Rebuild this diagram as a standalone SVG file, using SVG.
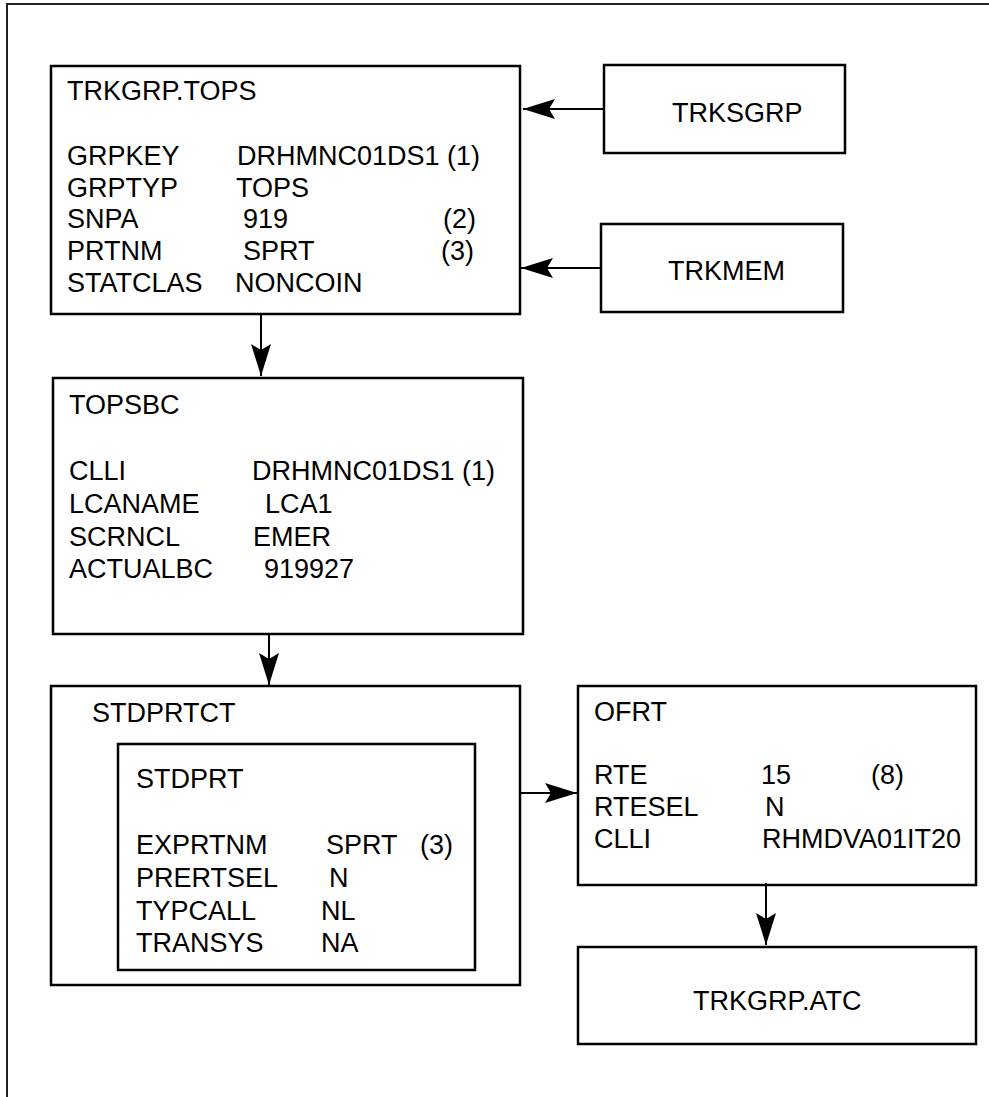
<svg xmlns="http://www.w3.org/2000/svg" width="989" height="1097" viewBox="0 0 989 1097">
<defs>
<style>
.box{fill:#fff;stroke:#000;stroke-width:2.5}
.t{font-family:"Liberation Sans",Arial,sans-serif;font-size:27px;fill:#000}
.c{stroke:#000;stroke-width:2;fill:none}
.frame{stroke:#222;stroke-width:2;fill:none}
</style>
<marker id="ah" markerUnits="userSpaceOnUse" markerWidth="36" markerHeight="24" viewBox="-34 -12 36 24" refX="0" refY="0" orient="auto">
<path d="M0,0 L-32,-10 L-26,0 L-32,10 Z" fill="#000"/>
</marker>
</defs>
<rect width="989" height="1097" fill="#fff"/>
<path class="frame" d="M7,1097 V4 H989"/>

<g id="trkgrp-tops">
<rect class="box" x="51" y="66" width="469" height="248"/>
<text class="t" x="67" y="100">TRKGRP.TOPS</text>
<text class="t" x="67" y="165">GRPKEY</text><text class="t" x="237" y="165">DRHMNC01DS1 (1)</text>
<text class="t" x="67" y="197">GRPTYP</text><text class="t" x="236" y="197">TOPS</text>
<text class="t" x="67" y="228">SNPA</text><text class="t" x="243" y="228">919</text><text class="t" x="443" y="228">(2)</text>
<text class="t" x="67" y="260">PRTNM</text><text class="t" x="243" y="260">SPRT</text><text class="t" x="441" y="260">(3)</text>
<text class="t" x="67" y="292">STATCLAS</text><text class="t" x="235" y="292">NONCOIN</text>
</g>

<g id="trksgrp">
<rect class="box" x="604" y="65" width="241" height="88"/>
<text class="t" x="672" y="122">TRKSGRP</text>
</g>

<g id="trkmem">
<rect class="box" x="601" y="224" width="242" height="88"/>
<text class="t" x="668" y="280">TRKMEM</text>
</g>

<g id="topsbc">
<rect class="box" x="53" y="378" width="470" height="256"/>
<text class="t" x="69" y="414">TOPSBC</text>
<text class="t" x="69" y="480">CLLI</text><text class="t" x="252" y="480">DRHMNC01DS1 (1)</text>
<text class="t" x="69" y="513">LCANAME</text><text class="t" x="265" y="513">LCA1</text>
<text class="t" x="69" y="546">SCRNCL</text><text class="t" x="253" y="546">EMER</text>
<text class="t" x="69" y="578">ACTUALBC</text><text class="t" x="264" y="578">919927</text>
</g>

<g id="stdprtct">
<rect class="box" x="51" y="686" width="469" height="299"/>
<text class="t" x="92" y="722">STDPRTCT</text>
</g>

<g id="stdprt">
<rect class="box" x="118" y="744" width="357" height="226"/>
<text class="t" x="136" y="788">STDPRT</text>
<text class="t" x="136" y="854">EXPRTNM</text><text class="t" x="326" y="854">SPRT</text><text class="t" x="420" y="854">(3)</text>
<text class="t" x="136" y="887">PRERTSEL</text><text class="t" x="329" y="887">N</text>
<text class="t" x="136" y="920">TYPCALL</text><text class="t" x="321" y="920">NL</text>
<text class="t" x="136" y="952">TRANSYS</text><text class="t" x="321" y="952">NA</text>
</g>

<g id="ofrt">
<rect class="box" x="578" y="686" width="398" height="199"/>
<text class="t" x="594" y="721">OFRT</text>
<text class="t" x="594" y="784">RTE</text><text class="t" x="761" y="784">15</text><text class="t" x="871" y="784">(8)</text>
<text class="t" x="594" y="816">RTESEL</text><text class="t" x="765" y="816">N</text>
<text class="t" x="594" y="848">CLLI</text><text class="t" x="762" y="848">RHMDVA01IT20</text>
</g>

<g id="trkgrp-atc">
<rect class="box" x="578" y="947" width="398" height="97"/>
<text class="t" x="693" y="1010">TRKGRP.ATC</text>
</g>

<g id="connectors">
<line class="c" x1="604" y1="109" x2="523" y2="109" marker-end="url(#ah)"/>
<line class="c" x1="601" y1="268" x2="521" y2="268" marker-end="url(#ah)"/>
<line class="c" x1="261" y1="315" x2="261" y2="376" marker-end="url(#ah)"/>
<line class="c" x1="269" y1="635" x2="269" y2="685" marker-end="url(#ah)"/>
<line class="c" x1="521" y1="793" x2="577" y2="793" marker-end="url(#ah)"/>
<line class="c" x1="766" y1="883" x2="766" y2="945" marker-end="url(#ah)"/>
</g>
</svg>
